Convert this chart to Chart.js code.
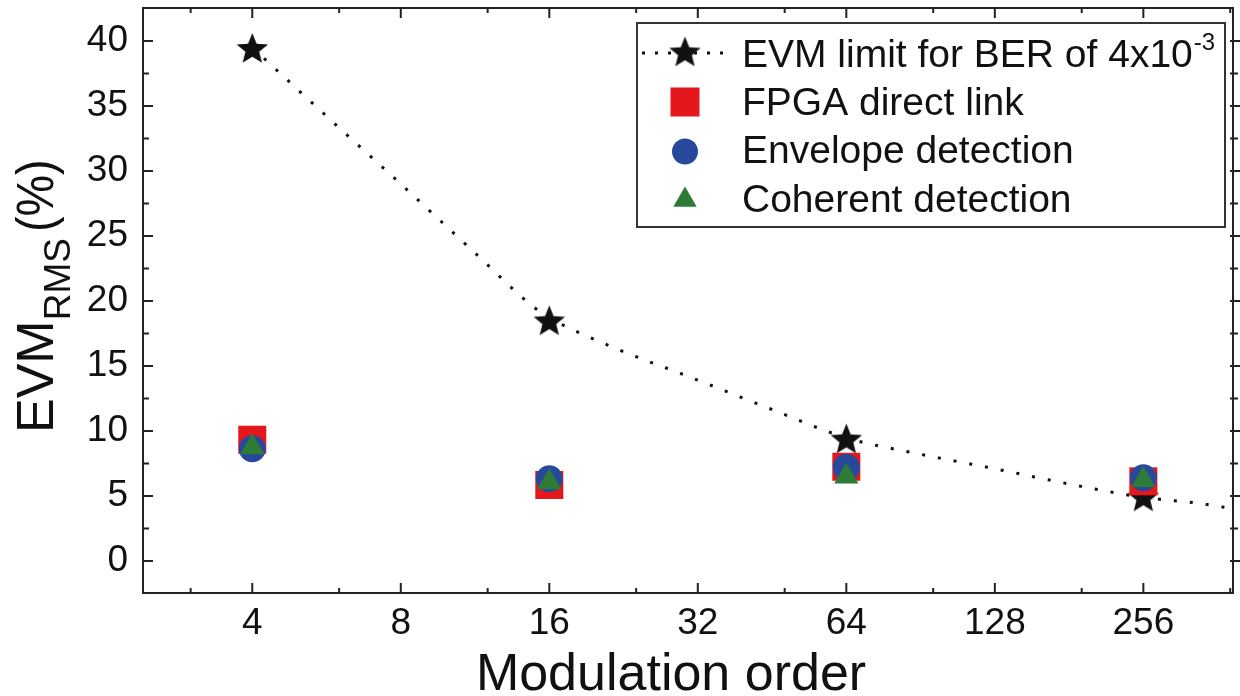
<!DOCTYPE html>
<html><head><meta charset="utf-8">
<script src="https://cdn.jsdelivr.net/npm/chart.js@4.4.1/dist/chart.umd.min.js"></script>
<style>html,body{margin:0;padding:0;background:#fff;overflow:hidden}#wrap{width:1240px;height:696px}</style>
</head><body><div id="wrap"><canvas id="c" width="1240" height="696"></canvas></div>
<script>
// ---- data ----
const modulationOrders = [4, 16, 64, 256];
const evmLimit = [39.35, 18.4, 9.3, 4.85];
const fpgaDirect = [9.33, 5.85, 7.25, 6.13];
const envelopeDet = [8.64, 6.33, 7.2, 6.4];
const coherentDet = [8.76, 6.06, 6.5, 6.24];
// dotted fit curve
const limitFitX = [4, 5.72, 8, 11.2, 14.85, 16, 21.8, 31.1, 44.3, 64, 88.6, 128.7, 187, 256, 331, 385];
const limitFitY = [39.5, 34.05, 29.0, 23.85, 19.56, 18.72, 16.36, 14.1, 11.79, 9.48, 8.28, 7.08, 5.82, 4.9, 4.44, 4.05];
const xTickValues = [4, 8, 16, 32, 64, 128, 256];
const xMinorTickValues = [3, 6, 12, 24, 48, 96, 192, 384];
const yTickValues = [0, 5, 10, 15, 20, 25, 30, 35, 40];
const yMinorTickValues = [2.5, 7.5, 12.5, 17.5, 22.5, 27.5, 32.5, 37.5];
const seriesLabels = ['EVM limit for BER of 4x10', 'FPGA direct link', 'Envelope detection', 'Coherent detection'];

const FONT = '"Liberation Sans", Arial, sans-serif';
const RED = '#E3171C', BLUE = '#27499C', GREEN = '#2E7B37', INK = '#111';

function makeStar(R, ratio, color) {
  const size = Math.ceil(2 * R + 4);
  const c = document.createElement('canvas'); c.width = c.height = size;
  const g = c.getContext('2d'); g.fillStyle = color; g.beginPath();
  for (let i = 0; i < 10; i++) {
    const r = i % 2 ? R * ratio : R;
    const a = -Math.PI / 2 + i * Math.PI / 5;
    g.lineTo(size / 2 + r * Math.cos(a), size / 2 + r * Math.sin(a));
  }
  g.closePath(); g.fill();
  return c;
}
const starImg = makeStar(16.5, 0.44, INK);

const pts = (xs, ys) => xs.map((x, i) => ({x: x, y: ys[i]}));

const datasets = [
  {label: seriesLabels[3], data: pts(modulationOrders, coherentDet), pointStyle: 'triangle', pointRadius: 14,
   backgroundColor: GREEN, borderColor: GREEN, borderWidth: 0, showLine: false, order: 0},
  {label: seriesLabels[2], data: pts(modulationOrders, envelopeDet), pointStyle: 'circle', pointRadius: 13.5,
   backgroundColor: BLUE, borderColor: BLUE, borderWidth: 0, showLine: false, order: 1},
  {label: seriesLabels[1], data: pts(modulationOrders, fpgaDirect), pointStyle: 'rect', pointRadius: 19.8,
   backgroundColor: RED, borderColor: RED, borderWidth: 0, showLine: false, order: 2},
  {label: seriesLabels[0], data: pts(modulationOrders, evmLimit), pointStyle: starImg, pointRadius: 16,
   backgroundColor: INK, borderColor: INK, showLine: false, order: 3},
  {label: 'fit', data: pts(limitFitX, limitFitY), showLine: true, pointRadius: 0, borderColor: INK,
   borderWidth: 3, borderDash: [3, 13], cubicInterpolationMode: 'monotone', fill: false, order: 4}
];

const framePlugin = {
  id: 'frame',
  afterDraw(chart) {
    const ctx = chart.ctx, a = chart.chartArea, xs = chart.scales.x, ys = chart.scales.y;
    ctx.save();
    ctx.strokeStyle = '#222'; ctx.lineWidth = 2;
    ctx.beginPath();
    ctx.moveTo(a.left, a.top); ctx.lineTo(a.right, a.top); ctx.lineTo(a.right, a.bottom);
    ctx.stroke();
    ctx.beginPath();
    xTickValues.forEach(v => { const p = xs.getPixelForValue(v);
      ctx.moveTo(p, a.bottom); ctx.lineTo(p, a.bottom - 10);
      ctx.moveTo(p, a.top); ctx.lineTo(p, a.top + 10); });
    xMinorTickValues.forEach(v => { const p = xs.getPixelForValue(v);
      ctx.moveTo(p, a.bottom); ctx.lineTo(p, a.bottom - 5);
      ctx.moveTo(p, a.top); ctx.lineTo(p, a.top + 5); });
    yTickValues.forEach(v => { const p = ys.getPixelForValue(v);
      ctx.moveTo(a.left, p); ctx.lineTo(a.left + 10, p);
      ctx.moveTo(a.right - 3, p); ctx.lineTo(a.right + 8, p); });
    yMinorTickValues.forEach(v => { const p = ys.getPixelForValue(v);
      ctx.moveTo(a.left, p); ctx.lineTo(a.left + 6, p);
      ctx.moveTo(a.right - 3, p); ctx.lineTo(a.right + 5, p); });
    ctx.stroke();

    // axis titles
    ctx.fillStyle = INK;
    ctx.textBaseline = 'alphabetic';
    ctx.textAlign = 'center';
    ctx.font = '52px ' + FONT;
    ctx.fillText('Modulation order', 671, 690);
    ctx.save();
    ctx.translate(53, 433);
    ctx.rotate(-Math.PI / 2);
    ctx.textAlign = 'left';
    ctx.font = '52px ' + FONT;
    ctx.fillText('EVM', 0, 0);
    let w = ctx.measureText('EVM').width;
    ctx.font = '37px ' + FONT;
    ctx.fillText('RMS', w, 17);
    w += ctx.measureText('RMS').width + 6;
    ctx.font = '52px ' + FONT;
    ctx.translate(w, 0);
    ctx.scale(0.9, 1);
    ctx.fillText('(%)', 0, 0);
    ctx.restore();

    // legend
    ctx.strokeStyle = '#333'; ctx.lineWidth = 2;
    ctx.strokeRect(637, 23, 588, 204);
    const sx = 685;
    const rows = [53, 102, 151.5, 200];
    ctx.strokeStyle = INK; ctx.lineWidth = 3; ctx.setLineDash([3, 10]);
    ctx.beginPath(); ctx.moveTo(642, rows[0]); ctx.lineTo(729, rows[0]); ctx.stroke();
    ctx.setLineDash([]);
    ctx.drawImage(starImg, sx - starImg.width / 2, rows[0] - starImg.height / 2);
    ctx.fillStyle = RED; ctx.fillRect(sx - 14.5, rows[1] - 14.5, 29, 29);
    ctx.fillStyle = BLUE; ctx.beginPath(); ctx.arc(sx, rows[2], 13, 0, Math.PI * 2); ctx.fill();
    ctx.fillStyle = GREEN; ctx.beginPath();
    for (let i = 0; i < 3; i++) { const ang = -Math.PI / 2 + i * 2 * Math.PI / 3;
      ctx.lineTo(sx + 13.5 * Math.cos(ang), rows[3] + 13.5 * Math.sin(ang)); }
    ctx.closePath(); ctx.fill();
    ctx.fillStyle = INK; ctx.textAlign = 'left';
    ctx.font = '39px ' + FONT;
    const base = [67, 115, 163, 212];
    ctx.fillText(seriesLabels[0], 742, base[0]);
    const lw = ctx.measureText(seriesLabels[0]).width;
    ctx.font = '24px ' + FONT;
    ctx.fillText('-3', 742 + lw + 1, 50);
    ctx.font = '39px ' + FONT;
    ctx.fillText(seriesLabels[1], 742, base[1]);
    ctx.fillText(seriesLabels[2], 742, base[2]);
    ctx.fillText(seriesLabels[3], 742, base[3]);
    ctx.restore();
  }
};

new Chart(document.getElementById('c'), {
  type: 'scatter',
  data: {datasets: datasets},
  options: {
    responsive: false, animation: false, devicePixelRatio: 1,
    layout: {autoPadding: false, padding: {left: 0, top: 8, right: 7, bottom: 0}},
    plugins: {legend: {display: false}, tooltip: {enabled: false}},
    scales: {
      x: {
        type: 'logarithmic', min: 2.402, max: 389,
        afterBuildTicks: s => { s.ticks = xTickValues.map(v => ({value: v})); },
        ticks: {callback: v => String(v), font: {family: FONT, size: 37}, color: INK, padding: 9,
                autoSkip: false, maxRotation: 0, minRotation: 0},
        grid: {drawOnChartArea: false, drawTicks: false},
        border: {display: true, color: '#222', width: 2},
        afterFit: s => { s.height = 103; s.paddingLeft = 0; s.paddingRight = 0; }
      },
      y: {
        type: 'linear', min: -2.46, max: 42.54,
        afterBuildTicks: s => { s.ticks = yTickValues.map(v => ({value: v})); },
        ticks: {callback: v => String(v), font: {family: FONT, size: 37}, color: INK, padding: 15},
        grid: {drawOnChartArea: false, drawTicks: false},
        border: {display: true, color: '#222', width: 2},
        afterFit: s => { s.width = 143; s.paddingTop = 0; s.paddingBottom = 0; }
      }
    }
  },
  plugins: [framePlugin]
});
</script>
</body></html>
